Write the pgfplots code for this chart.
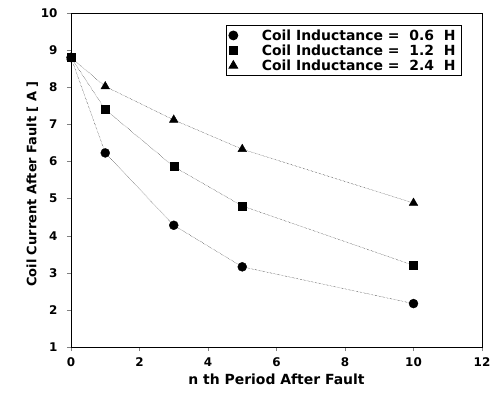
\documentclass[border=0pt]{standalone}
\usepackage{pgfplots}
\pgfplotsset{compat=1.18}
\usepackage{fontspec}
\setmainfont{DejaVu Sans}
\begin{document}
\begin{tikzpicture}
\begin{axis}[
  name=ax,
  scale only axis,
  width=411bp, height=334bp,
  xmin=0, xmax=12, ymin=1, ymax=10,
  xtick={0,2,...,12}, ytick={1,2,...,10},
  tick align=outside,
  xtick pos=bottom, ytick pos=left,
  major tick length=4bp,
  axis line style={line width=1pt},
  /pgf/number format/assume math mode=true,
  ticklabel style={font=\bfseries\fontsize{12}{13}\selectfont},
  yticklabel style={xshift=-6bp},
  xticklabel style={yshift=-3bp},
  xlabel={n th Period After Fault},
  ylabel={Coil Current After Fault [ A ]},
  label style={font=\bfseries\fontsize{14}{15}\selectfont},
  xlabel style={yshift=0bp},
  ylabel style={yshift=-4bp, font=\bfseries\fontsize{13}{14}\selectfont, xshift=-4bp},
  legend style={at={(0.951,0.964)}, anchor=north east, font=\bfseries\fontsize{14}{15}\selectfont, draw=black, line width=0.8pt, row sep=-1pt, inner sep=2pt, nodes={inner xsep=4bp, inner ysep=2pt}},
  legend cell align=left,
  legend image code/.code={\draw plot coordinates {(0.2cm,0cm)};},
  clip=false,
]
\addplot[black, densely dotted, mark=*, mark size=4.5bp, mark options={solid}] coordinates {(0,8.8) (1,6.23) (3,4.28) (5,3.16) (10,2.17)};
\addlegendentry{\hspace{20bp}Coil Inductance =\ \ 0.6\ \ H}
\addplot[black, densely dotted, mark=square*, mark size=4bp, mark options={solid}] coordinates {(0,8.8) (1,7.4) (3,5.86) (5,4.8) (10,3.2)};
\addlegendentry{\hspace{20bp}Coil Inductance =\ \ 1.2\ \ H}
\addplot[black, densely dotted, mark=triangle*, mark size=5bp, mark options={solid}] coordinates {(0,8.8) (1,8.02) (3,7.12) (5,6.33) (10,4.88)};
\addlegendentry{\hspace{20bp}Coil Inductance =\ \ 2.4\ \ H}
\end{axis}
\pgfresetboundingbox
\path[use as bounding box] ([xshift=-71bp,yshift=-55bp]ax.south west) rectangle ([xshift=8bp,yshift=13bp]ax.north east);
\end{tikzpicture}
\end{document}
